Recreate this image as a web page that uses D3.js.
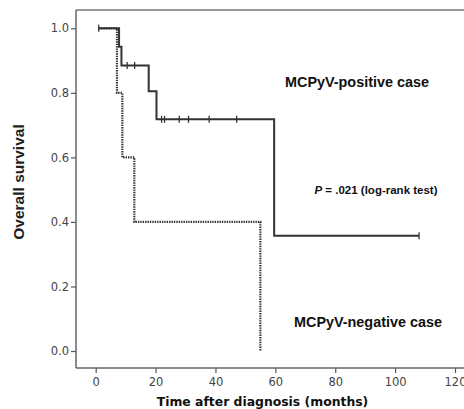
<!DOCTYPE html>
<html>
<head>
<meta charset="utf-8">
<script src="https://cdn.jsdelivr.net/npm/d3@7"></script>
<style>
  body { margin:0; background:#fff; }
  svg { display:block; }
</style>
</head>
<body>
<div id="chart"></div>
<script>
// survival step data
let posTime = [1, 7.8, 8.6, 17.7, 20.3, 59.6, 108]
let posSurv = [1.0, 0.943, 0.885, 0.805, 0.718, 0.357, 0.357]
let posCensorTime = [1, 10.5, 13, 22, 23, 27.9, 31, 37.9, 47.1, 108]
let posCensorSurv = [1.0, 0.885, 0.885, 0.718, 0.718, 0.718, 0.718, 0.718, 0.718, 0.357]
let negTime = [1, 7.1, 8.9, 12.9, 55]
let negSurv = [1.0, 0.8, 0.6, 0.4, 0.0]
let xTicks = [0, 20, 40, 60, 80, 100, 120]
let yTicks = [0, 0.2, 0.4, 0.6, 0.8, 1.0]

function render(){
  let width = 464, height = 409

  let svg = d3.select("#chart").append("svg")
    .attr("width", width).attr("height", height)

  // x(0)=95.7, x(120)=455 ; y(0)=351, y(1)=28.3
  let xScale = d3.scaleLinear().domain([0,120]).range([95.7,455])
  let yScale = d3.scaleLinear().domain([0,1]).range([351,28.3])
  let axisLeftX = 76, axisBottomY = 368

  // frame: top line
  svg.append("line")
    .attr("x1", axisLeftX).attr("x2", width)
    .attr("y1", 10).attr("y2", 10)
    .attr("stroke","#777").attr("stroke-width",1.5)

  let xAxis = d3.axisBottom(xScale).tickValues(xTicks).tickSize(5).tickSizeOuter(0)
    .tickFormat(d3.format("d"))
  let yAxis = d3.axisLeft(yScale).tickValues(yTicks).tickSize(5).tickSizeOuter(0)
    .tickFormat(d3.format(".1f"))

  let xGroup = svg.append("g").attr("transform",`translate(0,${axisBottomY})`).call(xAxis)
  let yGroup = svg.append("g").attr("transform",`translate(${axisLeftX},0)`).call(yAxis)
  xGroup.select(".domain").remove()
  yGroup.select(".domain").remove()
  svg.append("line").attr("x1",axisLeftX).attr("x2",width).attr("y1",axisBottomY).attr("y2",axisBottomY)
    .attr("stroke","#666").attr("stroke-width",1.5)
  svg.append("line").attr("x1",axisLeftX).attr("x2",axisLeftX).attr("y1",10).attr("y2",axisBottomY)
    .attr("stroke","#666").attr("stroke-width",1.5)

  ;[xGroup, yGroup].forEach(g=>{
    g.selectAll(".tick line").attr("stroke","#555").attr("stroke-width",1.2)
    g.selectAll(".tick text").attr("fill","#444")
      .attr("font-family","DejaVu Sans").attr("font-size",11.5)
  })
  xGroup.selectAll(".tick text").attr("dy","0.9em")
  yGroup.selectAll(".tick text").attr("x",-7)

  let line = d3.line().curve(d3.curveStepAfter)
    .x(d=>xScale(d[0])).y(d=>yScale(d[1]))

  let negData = negTime.map((t,i)=>[t, negSurv[i]])
  let posData = posTime.map((t,i)=>[t, posSurv[i]])

  svg.append("path").attr("d", line(negData))
    .attr("fill","none").attr("stroke","#333").attr("stroke-width",2.2)
    .attr("stroke-dasharray","1.4,1")

  svg.append("path").attr("d", line(posData))
    .attr("fill","none").attr("stroke","#333").attr("stroke-width",2)

  svg.selectAll("line.censor")
    .data(posCensorTime.map((t,i)=>[t, posCensorSurv[i]]))
    .enter().append("line").attr("class","censor")
    .attr("x1",d=>xScale(d[0])).attr("x2",d=>xScale(d[0]))
    .attr("y1",d=>yScale(d[1])-3.5).attr("y2",d=>yScale(d[1])+3.5)
    .attr("stroke","#333").attr("stroke-width",1.3)

  // annotations
  svg.append("text").attr("x",357).attr("y",87)
    .attr("text-anchor","middle").attr("font-family","Liberation Sans, Arial")
    .attr("font-weight","bold").attr("font-size",14.4).attr("fill","#111")
    .text("MCPyV-positive case")

  let p = svg.append("text").attr("x",376).attr("y",194)
    .attr("text-anchor","middle").attr("font-family","Liberation Sans, Arial")
    .attr("font-weight","bold").attr("font-size",11.5).attr("fill","#111")
  p.append("tspan").attr("font-style","italic").text("P")
  p.append("tspan").text(" = .021 (log-rank test)")

  svg.append("text").attr("x",368).attr("y",327)
    .attr("text-anchor","middle").attr("font-family","Liberation Sans, Arial")
    .attr("font-weight","bold").attr("font-size",14.4).attr("fill","#111")
    .text("MCPyV-negative case")

  svg.append("text").attr("transform","translate(24,182) rotate(-90)")
    .attr("text-anchor","middle").attr("font-family","Liberation Sans, Arial")
    .attr("font-weight","bold").attr("font-size",15.5).attr("fill","#222")
    .text("Overall survival")

  svg.append("text").attr("x",262.5).attr("y",406)
    .attr("text-anchor","middle").attr("font-family","DejaVu Sans")
    .attr("font-weight","bold").attr("font-size",12.4).attr("fill","#111")
    .text("Time after diagnosis (months)")
}
render()
</script>
</body>
</html>
